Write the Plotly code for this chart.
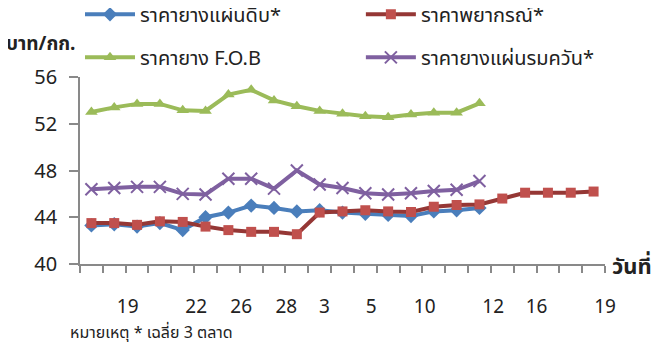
import plotly.graph_objects as go

# category positions (23 trading days), labels placed at their own positions
x_idx = list(range(23))
tick_pos = [1.59, 4.59, 6.56, 8.54, 10.21, 12.26, 14.6, 17.6, 19.5, 22.5]
tick_text = ["19", "22", "26", "28", "3", "5", "10", "12", "16", "19"]

raw_sheet = [43.3, 43.4, 43.2, 43.5, 42.9, 44.0, 44.4, 45.0, 44.8, 44.5, 44.6,
             44.4, 44.3, 44.2, 44.1, 44.5, 44.6, 44.8]
forecast = [43.5, 43.5, 43.35, 43.65, 43.6, 43.2, 42.9, 42.75, 42.75, 42.55, 44.4,
            44.5, 44.6, 44.5, 44.45, 44.9, 45.05, 45.1, 45.6, 46.1, 46.1, 46.1, 46.2]
fob = [53.0, 53.4, 53.7, 53.7, 53.15, 53.1, 54.5, 54.9, 54.0, 53.5, 53.1,
       52.85, 52.65, 52.55, 52.8, 52.95, 52.95, 53.75]
smoked = [46.4, 46.5, 46.6, 46.6, 46.0, 45.95, 47.3, 47.3, 46.45, 48.0, 46.8,
          46.5, 46.05, 45.95, 46.05, 46.25, 46.35, 47.1]

THAI = "Noto Sans Thai, Tahoma, Noto Sans, sans-serif"
AXIS_GREY = "#898989"

fig = go.Figure()

fig.add_trace(go.Scatter(
    x=x_idx[:len(raw_sheet)], y=raw_sheet, mode="lines+markers",
    name="ราคายางแผ่นดิบ*", legend="legend",
    line=dict(color="#4A7EBB", width=4),
    marker=dict(symbol="diamond", size=11, color="#4A7EBB"),
))
fig.add_trace(go.Scatter(
    x=x_idx[:len(forecast)], y=forecast, mode="lines+markers",
    name="ราคาพยากรณ์*", legend="legend2",
    line=dict(color="#953735", width=4),
    marker=dict(symbol="square", size=10, color="#C0504D"),
))
fig.add_trace(go.Scatter(
    x=x_idx[:len(fob)], y=fob, mode="lines+markers",
    name="ราคายาง F.O.B", legend="legend3",
    line=dict(color="#9BBB59", width=4),
    marker=dict(symbol="triangle-up", size=11, color="#9BBB59"),
))
fig.add_trace(go.Scatter(
    x=x_idx[:len(smoked)], y=smoked, mode="lines+markers",
    name="ราคายางแผ่นรมควัน*", legend="legend4",
    line=dict(color="#7F60A0", width=4),
    marker=dict(symbol="x-thin-open", size=12, line=dict(color="#7F60A0", width=2)),
))

legend_common = dict(
    orientation="h", xanchor="left", yanchor="middle",
    font=dict(family=THAI, size=20, color="#222222"),
    bgcolor="rgba(0,0,0,0)", itemwidth=50,
)

# page body adds an 8px offset, so the figure is 8px smaller on each axis
fig.update_layout(
    width=659, height=335,
    paper_bgcolor="white", plot_bgcolor="white",
    margin=dict(l=72, r=62, t=69, b=79, autoexpand=False),
    font=dict(family=THAI, color="#222222"),
    showlegend=True,
    legend=dict(x=0.0, y=1.335, **legend_common),
    legend2=dict(x=0.535, y=1.335, **legend_common),
    legend3=dict(x=0.0, y=1.105, **legend_common),
    legend4=dict(x=0.535, y=1.105, **legend_common),
    xaxis=dict(
        range=[-0.5, 22.5], tickvals=tick_pos, ticktext=tick_text,
        ticks="", showgrid=False, zeroline=False,
        showline=True, linecolor=AXIS_GREY, linewidth=1.5,
        tickfont=dict(size=19, color="#222222"), ticklabelstandoff=24,
        minor=dict(tickvals=[i - 0.5 for i in range(24)], ticks="outside",
                   ticklen=7, tickcolor=AXIS_GREY, tickwidth=1.5, showgrid=False),
    ),
    yaxis=dict(
        range=[40, 56], tickvals=[40, 44, 48, 52, 56],
        ticks="outside", ticklen=9, tickcolor=AXIS_GREY, tickwidth=1.5,
        showgrid=False, zeroline=False,
        showline=True, linecolor=AXIS_GREY, linewidth=1.5,
        tickfont=dict(size=20, color="#222222"), ticklabelstandoff=8,
    ),
    annotations=[
        dict(text="<b>บาท/กก.</b>", xref="paper", yref="paper", x=-0.145, y=1.175,
             xanchor="left", yanchor="middle", showarrow=False,
             font=dict(size=19, color="#222222")),
        dict(text="<b>วันที่</b>", xref="paper", yref="paper", x=1.01, y=-0.02,
             xanchor="left", yanchor="middle", showarrow=False,
             font=dict(size=22, color="#222222")),
        dict(text="หมายเหตุ * เฉลี่ย 3 ตลาด", xref="paper", yref="paper", x=-0.023, y=-0.37,
             xanchor="left", yanchor="middle", showarrow=False,
             font=dict(size=16, color="#222222")),
    ],
)

fig.write_html("out.html")
